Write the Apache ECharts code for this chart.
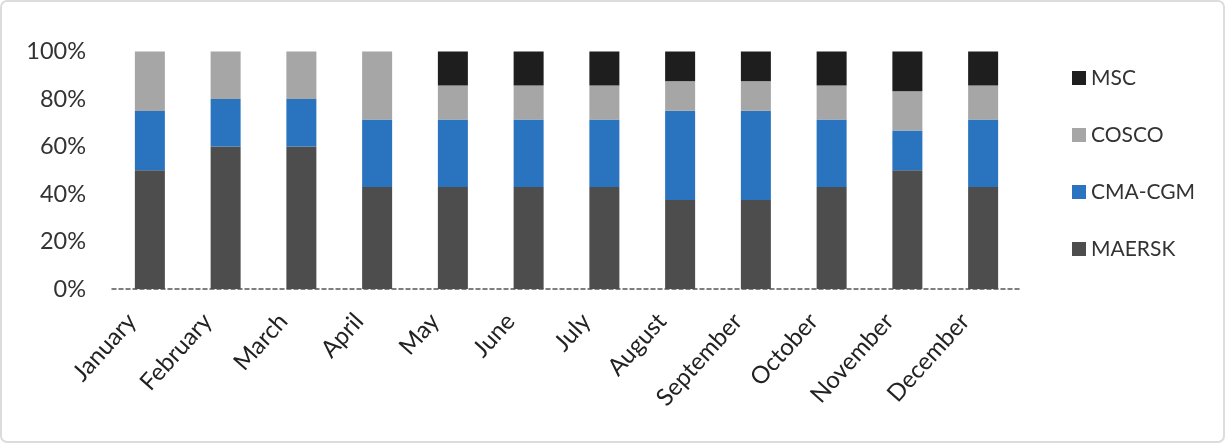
<!DOCTYPE html>
<html>
<head>
<meta charset="utf-8">
<script src="https://cdn.jsdelivr.net/npm/echarts@6/dist/echarts.min.js"></script>
<style>
html,body{margin:0;padding:0;background:#fff;}
#chart{width:1226px;height:444px;}
</style>
</head>
<body>
<div id="chart"></div>
<script>
var categories = ['January','February','March','April','May','June','July','August','September','October','November','December'];
var maersk = [50, 60, 60, 42.9, 42.9, 42.9, 42.9, 37.5, 37.5, 42.9, 50, 42.9];
var cmacgm = [25, 20, 20, 28.5, 28.5, 28.5, 28.5, 37.5, 37.5, 28.5, 16.7, 28.5];
var cosco  = [25, 20, 20, 28.6, 14.3, 14.3, 14.3, 12.5, 12.5, 14.3, 16.6, 14.3];
var msc    = [0, 0, 0, 0, 14.3, 14.3, 14.3, 12.5, 12.5, 14.3, 16.7, 14.3];
var yTicks = [0, 20, 40, 60, 80, 100];

var FONT = 'Lato';
var chart = echarts.init(document.getElementById('chart'));
function bar(name, data, color) {
  return {name: name, type: 'bar', stack: 'total', data: data, barWidth: 30,
    itemStyle: {color: color}, emphasis: {disabled: true}};
}
chart.setOption({
  animation: false,
  backgroundColor: '#fff',
  graphic: [{type: 'rect', shape: {x: 1, y: 1, width: 1223, height: 441, r: 6},
    style: {fill: 'none', stroke: '#dcdcdc', lineWidth: 2}, silent: true}],
  grid: {left: 112, right: 205, top: 51.5, bottom: 155},
  legend: {
    orient: 'vertical', left: 1067, top: 62, itemWidth: 14, itemHeight: 14, itemGap: 35,
    icon: 'rect', itemTextGap: 6,
    data: ['MSC', 'COSCO', 'CMA-CGM', 'MAERSK'],
    textStyle: {fontFamily: FONT, fontSize: 21, color: '#333', lineHeight: 22}
  },
  xAxis: {
    type: 'category', data: categories,
    axisLine: {lineStyle: {color: '#555', type: [4, 3], width: 1.5}},
    axisTick: {show: false},
    axisLabel: {rotate: 48, interval: 0, margin: 8, padding: [0, 27, 0, 0],
      fontFamily: FONT, fontSize: 24, color: '#222'}
  },
  yAxis: {
    type: 'value', min: yTicks[0], max: yTicks[yTicks.length - 1], interval: 20,
    axisLine: {show: false}, axisTick: {show: false}, splitLine: {show: false},
    axisLabel: {formatter: '{value}%', margin: 26, fontFamily: FONT, fontSize: 23.5, color: '#333'}
  },
  series: [
    bar('MAERSK', maersk, '#4d4d4d'),
    bar('CMA-CGM', cmacgm, '#2a74bf'),
    bar('COSCO', cosco, '#a6a6a6'),
    bar('MSC', msc, '#1e1e1e')
  ]
});
</script>
</body>
</html>
